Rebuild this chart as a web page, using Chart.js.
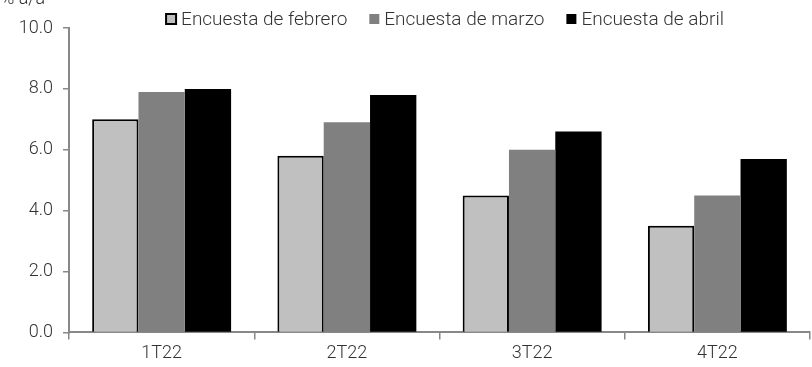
<!DOCTYPE html>
<html><head><meta charset="utf-8">
<script src="https://cdn.jsdelivr.net/npm/chart.js@4/dist/chart.umd.min.js"></script>
<style>html,body{margin:0;padding:0;background:#fff}#wrap{width:812px;height:367px}</style>
</head><body><div id="wrap"><canvas id="c" width="812" height="367"></canvas></div>
<script>
const categories = ["1T22", "2T22", "3T22", "4T22"];
const seriesNames = ["Encuesta de febrero", "Encuesta de marzo", "Encuesta de abril"];
const febrero = [7.0, 5.8, 4.5, 3.5];
const marzo = [7.9, 6.9, 6.0, 4.5];
const abril = [8.0, 7.8, 6.6, 5.7];
const yTitle = "% a/a";

const FONT = "Roboto, 'Liberation Sans', sans-serif";
const colors = ["#c0c0c0", "#808080", "#000000"];

const extras = {
  id: 'extras',
  afterDraw(chart) {
    const ctx = chart.ctx;
    ctx.save();
    ctx.fillStyle = '#333';
    ctx.font = '300 18px ' + FONT;
    ctx.textBaseline = 'alphabetic';
    ctx.textAlign = 'left';
    ctx.fillText(yTitle, 1, 4);
    // legend
    ctx.textBaseline = 'middle';
    ctx.font = '300 19px ' + FONT;
    const box = 10, gapBox = 5, gapItem = 22;
    const widths = seriesNames.map(n => ctx.measureText(n).width);
    let total = 0;
    widths.forEach((w, i) => { total += box + gapBox + w + (i < widths.length - 1 ? gapItem : 0); });
    let x = 445 - total / 2;
    const y = 19;
    seriesNames.forEach((n, i) => {
      ctx.fillStyle = colors[i];
      ctx.fillRect(x, y - box / 2, box, box);
      if (i === 0) {
        ctx.strokeStyle = '#000';
        ctx.lineWidth = 2;
        ctx.strokeRect(x, y - box / 2, box, box);
      }
      ctx.fillStyle = '#333';
      ctx.fillText(n, x + box + gapBox, y + 1);
      x += box + gapBox + widths[i] + gapItem;
    });
    ctx.restore();
  }
};

new Chart(document.getElementById('c'), {
  type: 'bar',
  data: {
    labels: categories,
    datasets: [
      { label: seriesNames[0], data: febrero, backgroundColor: colors[0], borderColor: '#000',
        borderWidth: { top: 2, left: 2, right: 2, bottom: 0 }, borderSkipped: false },
      { label: seriesNames[1], data: marzo, backgroundColor: colors[1], borderWidth: 0 },
      { label: seriesNames[2], data: abril, backgroundColor: colors[2], borderWidth: 0 }
    ]
  },
  options: {
    responsive: false,
    animation: false,
    layout: { padding: { top: 28, right: 2, left: 0, bottom: 0 } },
    plugins: { legend: { display: false }, tooltip: { enabled: false } },
    datasets: { bar: { categoryPercentage: 0.75, barPercentage: 1.0 } },
    scales: {
      x: {
        offset: true,
        grid: { offset: true, drawOnChartArea: false, drawTicks: true, tickLength: 7, color: '#888', lineWidth: 1.5 },
        border: { color: '#888', width: 2 },
        ticks: { color: '#333', font: { family: FONT, size: 18, weight: '300' }, padding: 3 }
      },
      y: {
        min: 0, max: 10,
        afterFit(scale) { scale.width = 69; },
        grid: { drawOnChartArea: false, drawTicks: true, tickLength: 6, color: '#888', lineWidth: 1.5 },
        border: { color: '#888', width: 2 },
        ticks: { stepSize: 2, color: '#333', font: { family: FONT, size: 18, weight: '300' }, padding: 10,
          callback: v => v.toFixed(1) }
      }
    }
  },
  plugins: [extras]
});
</script></body></html>
